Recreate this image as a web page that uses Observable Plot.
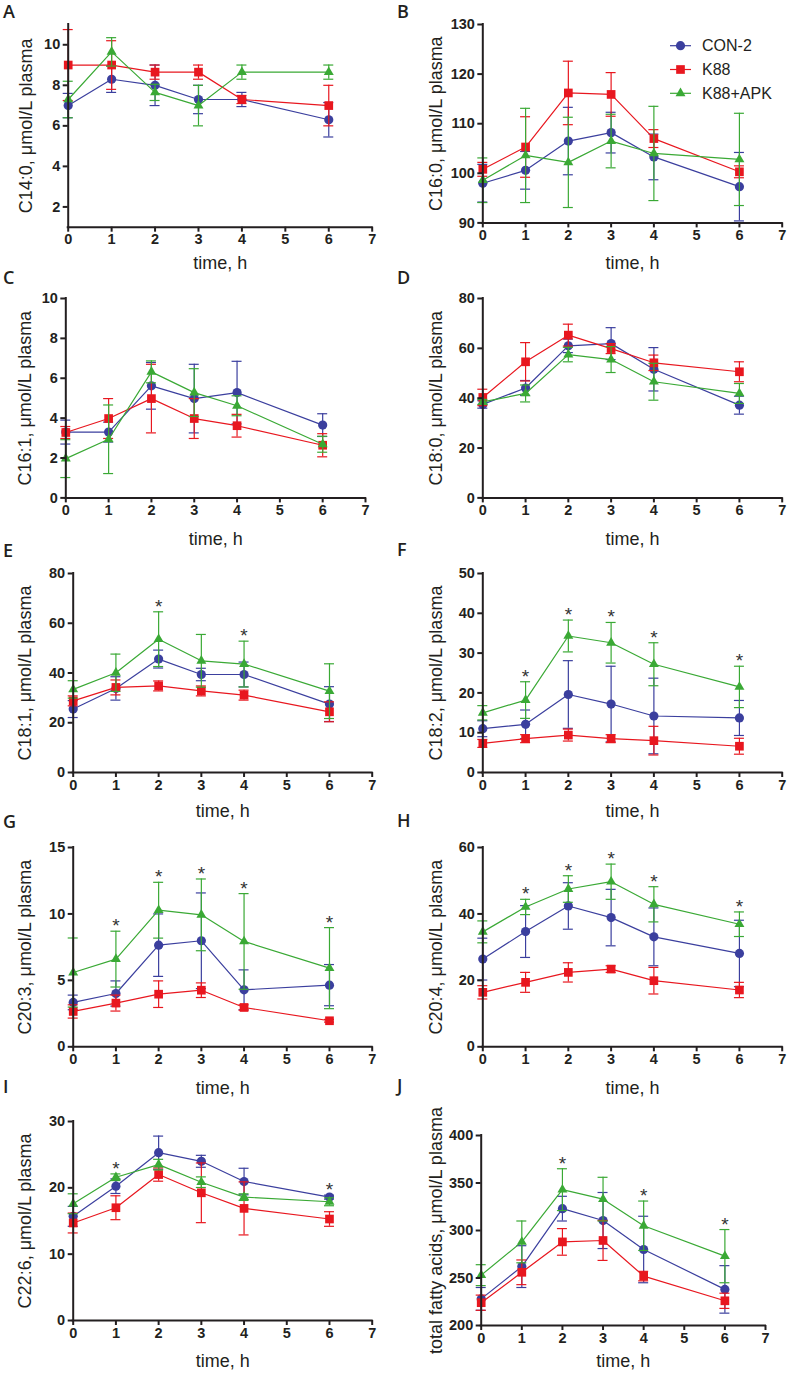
<!DOCTYPE html>
<html>
<head>
<meta charset="utf-8">
<script src="https://cdn.jsdelivr.net/npm/d3@7"></script>
<script src="https://cdn.jsdelivr.net/npm/@observablehq/plot@0.6"></script>
<style>
  body { margin: 0; background: #fff; }
  #page { position: relative; width: 788px; height: 1374px; overflow: hidden; background: #fff; }
  .panel { position: absolute; }
  .panel svg, .panel svg text { font-family: "Liberation Sans", Arial, sans-serif; }
  #overlay { position: absolute; left: 0; top: 0; pointer-events: none; }
</style>
</head>
<body>
<div id="page"></div>
<script>
// ---------- shared data ----------
const times = [0, 1, 2, 3, 4, 6];
const xTicks = [0, 1, 2, 3, 4, 5, 6, 7];
const groups = ["CON-2", "K88", "K88+APK"];
const colors = ["#3b3f9e", "#e8171f", "#3aa935"];
const symbols = ["circle", "square", "triangle"];
const xTitle = "time, h";

// ---------- A: C14:0 ----------
const aTitle = "C14:0, μmol/L plasma";
const aTicks = [2, 4, 6, 8, 10];
const aMean = [[7.0, 8.3, 8.0, 7.3, 7.3, 6.3], [9.0, 9.0, 8.65, 8.65, 7.3, 7.0], [7.3, 9.65, 7.65, 7.0, 8.65, 8.65]];
const aSd = [[0.6, 0.65, 1.0, 0.7, 0.35, 0.85], [1.75, 1.2, 0.35, 0.35, 0.2, 1.0], [0.9, 0.7, 0.4, 1.0, 0.35, 0.35]];
const aStars = [];

// ---------- B: C16:0 ----------
const bTitle = "C16:0, μmol/L plasma";
const bTicks = [90, 100, 110, 120, 130];
const bMean = [[98.0, 100.6, 106.5, 108.2, 103.3, 97.3], [100.8, 105.3, 116.2, 115.9, 107.0, 100.3], [98.6, 103.6, 102.2, 106.5, 104.0, 102.8]];
const bSd = [[3.8, 3.8, 6.8, 4.1, 4.6, 6.9], [1.4, 6.1, 6.4, 4.4, 1.8, 1.2], [4.5, 9.5, 9.1, 5.4, 9.5, 9.3]];
const bStars = [];

// ---------- C: C16:1 ----------
const cTitle = "C16:1, μmol/L plasma";
const cTicks = [0, 2, 4, 6, 8, 10];
const cMean = [[3.3, 3.3, 5.62, 4.98, 5.28, 3.65], [3.28, 3.98, 4.98, 3.98, 3.62, 2.64], [1.97, 2.94, 6.32, 5.28, 4.62, 2.69]];
const cSd = [[0.6, 0.5, 1.17, 1.72, 1.57, 0.57], [0.3, 1.0, 1.72, 1.0, 0.57, 0.58], [0.95, 1.72, 0.55, 1.2, 0.5, 0.4]];
const cStars = [];

// ---------- D: C18:0 ----------
const dTitle = "C18:0, μmol/L plasma";
const dTicks = [0, 20, 40, 60, 80];
const dMean = [[37.5, 44.1, 61.0, 61.9, 51.6, 37.2], [40.3, 54.6, 65.3, 59.9, 54.2, 50.6], [38.5, 41.9, 57.5, 55.5, 46.6, 41.9]];
const dSd = [[1.5, 3.0, 2.7, 6.4, 8.7, 3.6], [3.3, 7.7, 4.4, 2.0, 3.1, 4.0], [1.0, 3.4, 2.9, 5.2, 7.4, 4.0]];
const dStars = [];

// ---------- E: C18:1 ----------
const eTitle = "C18:1, μmol/L plasma";
const eTicks = [0, 20, 40, 60, 80];
const eMean = [[25.5, 33.8, 45.6, 39.4, 39.4, 27.5], [28.8, 34.2, 34.8, 32.8, 31.1, 24.4], [33.4, 40.1, 53.6, 44.9, 43.6, 32.7]];
const eSd = [[3.4, 4.7, 3.6, 2.5, 5.0, 7.0], [2.0, 3.0, 2.0, 2.0, 2.0, 4.0], [3.5, 7.5, 11.0, 10.6, 9.2, 11.0]];
const eStars = [2, 4];

// ---------- F: C18:2 ----------
const fTitle = "C18:2, μmol/L plasma";
const fTicks = [0, 10, 20, 30, 40, 50];
const fMean = [[11.0, 12.1, 19.6, 17.2, 14.2, 13.7], [7.3, 8.5, 9.4, 8.5, 8.0, 6.6], [15.0, 18.2, 34.3, 32.6, 27.2, 21.5]];
const fSd = [[2.0, 3.6, 8.5, 9.5, 9.5, 4.4], [1.0, 1.0, 1.5, 1.0, 3.6, 2.0], [1.8, 4.6, 4.0, 5.1, 5.4, 5.2]];
const fStars = [1, 2, 3, 4, 6];

// ---------- G: C20:3 ----------
const gTitle = "C20:3, μmol/L plasma";
const gTicks = [0, 5, 10, 15];
const gMean = [[3.34, 4.01, 7.65, 7.98, 4.29, 4.64], [2.66, 3.29, 3.96, 4.26, 2.96, 1.96], [5.59, 6.6, 10.28, 9.93, 7.93, 5.92]];
const gSd = [[0.55, 0.95, 2.35, 3.6, 1.5, 1.55], [0.5, 0.6, 1.0, 0.55, 0.2, 0.1], [2.6, 2.1, 2.1, 2.7, 3.6, 3.05]];
const gStars = [1, 2, 3, 4, 6];

// ---------- H: C20:4 ----------
const hTitle = "C20:4, μmol/L plasma";
const hTicks = [0, 20, 40, 60];
const hMean = [[26.4, 34.7, 42.4, 38.9, 33.1, 28.1], [16.4, 19.4, 22.4, 23.4, 19.9, 17.1], [34.6, 42.1, 47.5, 49.7, 42.9, 36.9]];
const hSd = [[6.3, 7.8, 7.0, 8.5, 8.7, 10.0], [2.0, 3.0, 2.9, 1.0, 4.0, 2.3], [3.3, 2.3, 4.0, 5.3, 5.3, 3.7]];
const hStars = [1, 2, 3, 4, 6];

// ---------- I: C22:6 ----------
const iTitle = "C22:6, μmol/L plasma";
const iTicks = [0, 10, 20, 30];
const iMean = [[15.7, 20.25, 25.3, 24.0, 20.95, 18.6], [14.7, 17.0, 22.0, 19.25, 16.9, 15.3], [17.6, 21.6, 23.5, 20.85, 18.6, 17.9]];
const iSd = [[1.5, 1.1, 2.5, 0.9, 2.0, 0.3], [1.5, 1.8, 1.0, 4.5, 4.0, 1.1], [1.5, 0.5, 0.8, 0.8, 0.5, 0.6]];
const iStars = [1, 6];

// ---------- J: total fatty acids ----------
const jTitle = "total fatty acids, μmol/L plasma";
const jTicks = [200, 250, 300, 350, 400];
const jMean = [[228, 262, 323, 310.5, 280, 238], [224, 256, 288, 289.5, 252, 226], [253, 288, 343, 333, 305, 273]];
const jSd = [[12, 22, 13, 29.5, 35, 25], [8, 13, 14, 21, 5, 8], [11, 22, 22, 23, 26, 28]];
const jStars = [2, 4, 6];

// ---------- layout (pixel geometry only) ----------
const panels = [
  {letter: "A", title: aTitle, ticks: aTicks, domain: [1, 11], mean: aMean, sd: aSd, stars: aStars,
   left: 0, fl: 67.7, fr: 371.7, ft: 24, fb: 226.7, lx: 19, xo: 42, lbx: 3, lby: 18},
  {letter: "B", title: bTitle, ticks: bTicks, domain: [90, 130], mean: bMean, sd: bSd, stars: bStars,
   left: 394, fl: 482.3, fr: 781.7, ft: 24.3, fb: 222.7, lx: 429, xo: 46, lbx: 397, lby: 18},
  {letter: "C", title: cTitle, ticks: cTicks, domain: [0, 10], mean: cMean, sd: cSd, stars: cStars,
   left: 0, fl: 65.3, fr: 365, ft: 298.3, fb: 497.7, lx: 18, xo: 47, lbx: 3, lby: 284},
  {letter: "D", title: dTitle, ticks: dTicks, domain: [0, 80], mean: dMean, sd: dSd, stars: dStars,
   left: 394, fl: 482.3, fr: 781.7, ft: 298.3, fb: 497.7, lx: 429, xo: 47, lbx: 397, lby: 284},
  {letter: "E", title: eTitle, ticks: eTicks, domain: [0, 80], mean: eMean, sd: eSd, stars: eStars,
   left: 0, fl: 72.7, fr: 371.7, ft: 573.3, fb: 772.3, lx: 18, xo: 44, lbx: 3, lby: 557},
  {letter: "F", title: fTitle, ticks: fTicks, domain: [0, 50], mean: fMean, sd: fSd, stars: fStars,
   left: 394, fl: 482.3, fr: 781.7, ft: 573.3, fb: 772.3, lx: 429, xo: 44, lbx: 397, lby: 556},
  {letter: "G", title: gTitle, ticks: gTicks, domain: [0, 15], mean: gMean, sd: gSd, stars: gStars,
   left: 0, fl: 72.7, fr: 371.7, ft: 846.7, fb: 1046, lx: 18, xo: 47, lbx: 3, lby: 828},
  {letter: "H", title: hTitle, ticks: hTicks, domain: [0, 60], mean: hMean, sd: hSd, stars: hStars,
   left: 394, fl: 482.3, fr: 781.7, ft: 846.7, fb: 1046, lx: 429, xo: 47, lbx: 397, lby: 827},
  {letter: "I", title: iTitle, ticks: iTicks, domain: [0, 30], mean: iMean, sd: iSd, stars: iStars,
   left: 0, fl: 72.7, fr: 371.7, ft: 1121, fb: 1320, lx: 18, xo: 46, lbx: 3, lby: 1093},
  {letter: "J", title: jTitle, ticks: jTicks, domain: [200, 400], mean: jMean, sd: jSd, stars: jStars,
   left: 394, fl: 480.7, fr: 765, ft: 1135, fb: 1325, lx: 429, xo: 41, lbx: 397, lby: 1092}
];

const page = document.getElementById("page");
const ink = "#231f20";
const intFmt = d => String(d);
const tickFont = "14.5px";

function buildRows(mean, sd) {
  const out = [];
  groups.forEach((g, gi) => times.forEach((t, ti) => out.push({group: g, gi, t, v: mean[gi][ti], sd: sd[gi][ti]})));
  return out;
}
function buildStars(stars, mean, sd) {
  return stars.map(t => {
    const ti = times.indexOf(t);
    return {t, top: d3.max(groups, (g, gi) => mean[gi][ti] + sd[gi][ti])};
  });
}

const dotR = [4.6, 4.9, 3.7];

panels.forEach(p => {
  const rows = buildRows(p.mean, p.sd);
  const starRows = buildStars(p.stars, p.mean, p.sd);
  const mTop = 24, mBottom = 54;
  const svgTop = p.ft - mTop;
  const height = p.fb - p.ft + mTop + mBottom;
  const marks = [];
  groups.forEach((g, gi) => {
    const d = rows.filter(r => r.gi === gi);
    const c = colors[gi];
    marks.push(
      Plot.ruleX(d, {x: "t", y1: r => r.v - r.sd, y2: r => r.v + r.sd, stroke: c, strokeWidth: 1.2}),
      Plot.ruleY(d, {x1: "t", x2: "t", y: r => r.v + r.sd, stroke: c, strokeWidth: 1.2, insetLeft: -5, insetRight: -5}),
      Plot.ruleY(d, {x1: "t", x2: "t", y: r => r.v - r.sd, stroke: c, strokeWidth: 1.2, insetLeft: -5, insetRight: -5}),
      Plot.line(d, {x: "t", y: "v", stroke: c, strokeWidth: 1.2}),
      Plot.dot(d, {x: "t", y: "v", fill: c, stroke: "none", symbol: symbols[gi], r: dotR[gi]})
    );
  });
  marks.push(
    Plot.text(starRows, {x: "t", y: "top", text: () => "*", dy: 1, lineAnchor: "bottom", fontSize: 19, fontWeight: "normal", fill: "#333"}),
    Plot.axisY({ticks: p.ticks, tickFormat: intFmt, tickSize: 5, tickPadding: 3, fontSize: 14.5, fontWeight: "bold", strokeWidth: 2,
      label: p.title, labelAnchor: "center", labelArrow: "none", labelOffset: p.fl - p.lx}),
    Plot.axisX({ticks: xTicks, tickFormat: intFmt, tickSize: 5, tickPadding: 2, fontSize: 14.5, fontWeight: "bold", strokeWidth: 2,
      label: xTitle, labelAnchor: "center", labelArrow: "none", labelOffset: p.xo}),
    Plot.ruleX([0], {strokeWidth: 2, strokeLinecap: "square", stroke: ink}),
    Plot.ruleY([p.domain[0]], {strokeWidth: 2, strokeLinecap: "square", stroke: ink})
  );
  const chart = Plot.plot({
    width: 394,
    height,
    marginLeft: p.fl - p.left,
    marginRight: p.left + 394 - p.fr,
    marginTop: mTop,
    marginBottom: mBottom,
    style: {background: "transparent", overflow: "visible", fontFamily: "Liberation Sans, Arial, sans-serif",
            fontSize: tickFont, fontWeight: "bold", color: ink},
    x: {domain: [0, 7]},
    y: {domain: p.domain},
    marks
  });
  d3.select(chart).selectAll("g").filter(function() {
    const a = this.getAttribute("aria-label") || "";
    return a.includes("tick label");
  }).style("font-size", tickFont).style("font-weight", "bold").style("fill", ink);
  d3.select(chart).selectAll("g").filter(function() {
    const a = this.getAttribute("aria-label") || "";
    return a === "x-axis label" || a === "y-axis label";
  }).style("font-size", "18px").style("font-weight", "normal");
  const div = document.createElement("div");
  div.className = "panel";
  div.style.left = p.left + "px";
  div.style.top = svgTop + "px";
  div.appendChild(chart);
  page.appendChild(div);
});

// ---------- overlay: panel letters + legend ----------
const ov = d3.select(page).append("svg").attr("id", "overlay").attr("width", 788).attr("height", 1374);
ov.selectAll("text.letter").data(panels).join("text")
  .attr("class", "letter")
  .attr("x", p => p.lbx).attr("y", p => p.lby)
  .attr("font-family", "'Open Sans', 'DejaVu Sans', sans-serif")
  .attr("font-size", 18).attr("font-weight", 600).attr("fill", ink)
  .text(p => p.letter);

const legendY = [45.7, 69.5, 93.3];
const d3sym = {circle: d3.symbolCircle, square: d3.symbolSquare, triangle: d3.symbolTriangle};
const lg = ov.append("g");
groups.forEach((g, gi) => {
  const y = legendY[gi];
  lg.append("line").attr("x1", 670).attr("x2", 691).attr("y1", y).attr("y2", y)
    .attr("stroke", colors[gi]).attr("stroke-width", 1.2);
  lg.append("path").attr("transform", `translate(680.5,${y})`)
    .attr("d", d3.symbol(d3sym[symbols[gi]], Math.PI * dotR[gi] * dotR[gi])())
    .attr("fill", colors[gi]);
  lg.append("text").attr("x", 702).attr("y", y).attr("dy", "0.36em")
    .attr("font-family", "Liberation Sans, Arial, sans-serif").attr("font-size", 16).attr("fill", ink)
    .text(g);
});
</script>
</body>
</html>
